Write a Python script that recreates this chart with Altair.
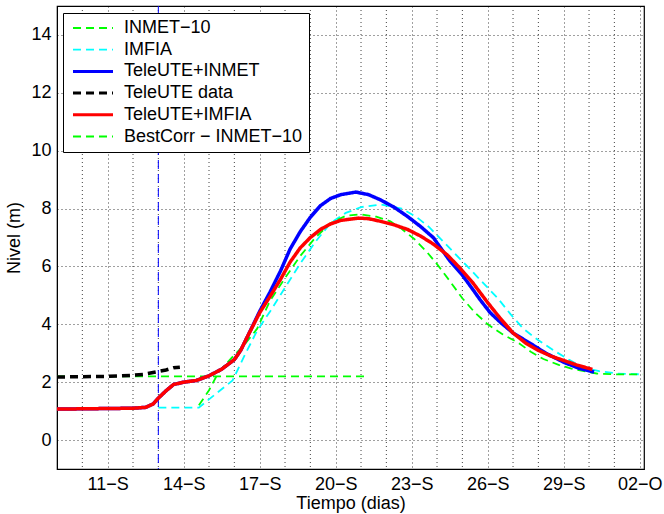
import altair as alt
import pandas as pd

YEAR = 2013
FONT = "Liberation Sans"
FS = 18

# x positions are day-of-September (32 = 02-Oct)
series_names = ["INMET\u221210", "IMFIA", "TeleUTE+INMET", "TeleUTE data",
                "TeleUTE+IMFIA", "BestCorr \u2212 INMET\u221210"]
series_colors = ["#00ff00", "#00ffff", "#0000ff", "#000000", "#ff0000", "#00ff00"]
series_dash = [[8, 5], [8, 5], [1, 0], [8, 5], [1, 0], [8, 5]]
series_width = [1.8, 1.8, 3.5, 3.5, 3.5, 1.8]

inmet_days = [9.0, 21.2]
inmet_vals = [2.2, 2.2]

imfia_days = [13.0, 14.6, 15.2, 15.93, 16.4, 16.9, 17.43, 18.0, 18.6, 19.2, 19.8,
              20.4, 21.0, 21.77, 22.6, 23.2, 23.7, 24.2, 24.7, 25.2, 25.8, 26.4,
              26.9, 27.4, 28.0, 28.6, 29.2, 29.8, 30.4, 31.1, 32.1]
imfia_vals = [1.12, 1.12, 1.55, 2.06, 2.92, 3.78, 4.47, 5.27, 6.1, 6.85, 7.5,
              7.85, 8.05, 8.14, 8.0, 7.7, 7.35, 6.9, 6.45, 6.0, 5.45, 4.9,
              4.35, 3.85, 3.45, 3.1, 2.78, 2.5, 2.38, 2.3, 2.27]

tele_inmet_days = [9.0, 10.0, 11.0, 12.0, 12.5, 12.8, 13.0, 13.3, 13.6, 14.0, 14.5,
                   15.0, 15.5, 16.0, 16.25, 16.56, 17.0, 17.4, 17.82, 18.2, 18.6,
                   19.0, 19.4, 19.8, 20.2, 20.8, 21.3, 21.77, 22.3, 22.83, 23.35,
                   23.86, 24.5, 25.0, 25.4, 25.7, 26.1, 26.5, 27.0, 27.7, 28.3,
                   29.0, 29.6, 30.1, 30.2]
tele_inmet_vals = [1.07, 1.08, 1.09, 1.1, 1.13, 1.25, 1.45, 1.7, 1.92, 2.0, 2.06,
                   2.22, 2.45, 2.78, 3.1, 3.65, 4.45, 5.1, 5.84, 6.6, 7.2,
                   7.7, 8.1, 8.35, 8.48, 8.57, 8.48, 8.3, 8.05, 7.73, 7.38,
                   6.99, 6.2, 5.7, 5.22, 4.85, 4.4, 4.07, 3.7, 3.33, 3.0,
                   2.69, 2.48, 2.37, 2.35]

tele_data_days = [9.0, 10.0, 11.0, 12.0, 12.4, 13.0, 13.3, 13.6, 13.85]
tele_data_vals = [2.18, 2.19, 2.2, 2.24, 2.27, 2.37, 2.42, 2.5, 2.52]

tele_imfia_days = [9.0, 10.0, 11.0, 12.0, 12.5, 12.8, 13.0, 13.3, 13.6, 14.0, 14.5,
                   15.0, 15.5, 16.0, 16.25, 16.56, 17.0, 17.4, 17.82, 18.2, 18.6,
                   19.0, 19.4, 19.8, 20.2, 20.9, 21.3, 21.77, 22.3, 22.83, 23.35,
                   23.86, 24.4, 24.9, 25.4, 25.7, 26.0, 26.5, 27.0, 27.5, 28.0,
                   28.5, 29.0, 29.5, 30.13]
tele_imfia_vals = [1.07, 1.08, 1.09, 1.1, 1.13, 1.25, 1.45, 1.7, 1.92, 2.0, 2.06,
                   2.22, 2.45, 2.78, 3.1, 3.65, 4.4, 4.95, 5.55, 6.15, 6.64,
                   7.0, 7.28, 7.47, 7.59, 7.67, 7.65, 7.56, 7.44, 7.28, 7.05,
                   6.77, 6.4, 5.95, 5.45, 5.1, 4.75, 4.2, 3.7, 3.35, 3.1,
                   2.9, 2.75, 2.6, 2.44]

best_days = [14.6, 15.0, 15.38, 15.9, 16.4, 16.9, 17.4, 18.0, 18.6, 19.2, 19.8,
             20.4, 21.0, 21.6, 22.16, 22.6, 23.1, 23.6, 24.0, 24.5, 25.0, 25.5,
             26.0, 26.6, 27.2, 27.7, 28.2, 28.8, 29.3, 29.8, 30.3, 31.1, 32.1]
best_vals = [1.2, 1.72, 2.35, 2.85, 3.3, 3.85, 4.8, 5.6, 6.36, 7.0, 7.5,
             7.75, 7.8, 7.72, 7.56, 7.3, 6.95, 6.5, 6.08, 5.5, 4.9, 4.4,
             4.0, 3.65, 3.37, 3.05, 2.8, 2.6, 2.47, 2.38, 2.3, 2.27, 2.27]

forecast_start_day = [13.0]

x_domain_days = [9.0, 32.17]
grid_days = list(range(10, 33))
label_days = [11, 14, 17, 20, 23, 26, 29, 32]
label_texts = ["11\u2212S", "14\u2212S", "17\u2212S", "20\u2212S", "23\u2212S",
               "26\u2212S", "29\u2212S", "02\u2212O"]
y_ticks = [0, 2, 4, 6, 8, 10, 12, 14]

base = pd.Timestamp(f"{YEAR}-09-01")


def to_ts(d):
    return (base + pd.Timedelta(days=d - 1)).strftime("%Y-%m-%dT%H:%M:%S")


def to_dt(d):
    t = base + pd.Timedelta(days=d - 1)
    return alt.DateTime(year=t.year, month=t.month, date=t.day,
                        hours=t.hour, minutes=t.minute)


def js_list(items):
    return "[" + ",".join(f"'{k}'" for k in items) + "]"


all_days = [inmet_days, imfia_days, tele_inmet_days, tele_data_days,
            tele_imfia_days, best_days]
all_vals = [inmet_vals, imfia_vals, tele_inmet_vals, tele_data_vals,
            tele_imfia_vals, best_vals]

rows = []
for i, (name, ds, vs) in enumerate(zip(series_names, all_days, all_vals)):
    for d, v in zip(ds, vs):
        rows.append({"serie": name, "order": i, "t": to_ts(d), "nivel": v})
df = pd.DataFrame(rows)

label_keys = [(base + pd.Timedelta(days=d - 1)).strftime("%m-%d") for d in label_days]
label_expr = ("indexof({keys}, timeFormat(datum.value, '%m-%d')) >= 0 ? "
              "{labels}[indexof({keys}, timeFormat(datum.value, '%m-%d'))] : ''").format(
    keys=js_list(label_keys), labels=js_list(label_texts))

thick = [n for n, w in zip(series_names, series_width) if w >= 3]
thin = [n for n, w in zip(series_names, series_width) if w < 3]
width_expr = f"indexof({js_list(thick)}, datum.value) >= 0 ? 3 : 1.8"

x_scale = alt.Scale(domain=[to_dt(x_domain_days[0]), to_dt(x_domain_days[1])])
y_scale = alt.Scale(domain=[-1, 15], nice=False, zero=False)

legend_cfg = alt.Legend(orient="none", legendX=6, legendY=7,
                        symbolStrokeWidth={"expr": width_expr})

x_enc = alt.X("t:T", scale=x_scale, title="Tiempo (dias)",
              axis=alt.Axis(values=[to_dt(d) for d in label_days], labelExpr=label_expr,
                            grid=True, ticks=False, labelPadding=6, titlePadding=1,
                            labelFlush=False, labelOverlap=False))
y_enc = alt.Y("nivel:Q", scale=y_scale, title="Nivel (m)",
              axis=alt.Axis(values=y_ticks, grid=True, ticks=False, labelPadding=6,
                            titlePadding=7))
color_enc = alt.Color("serie:N", scale=alt.Scale(domain=series_names, range=series_colors),
                      title=None, legend=legend_cfg)
dash_enc = alt.StrokeDash("serie:N", scale=alt.Scale(domain=series_names, range=series_dash),
                          title=None, legend=legend_cfg)

line_base = alt.Chart(df).encode(x=x_enc, y=y_enc, color=color_enc, strokeDash=dash_enc,
                                 detail="order:O")
thin_lines = line_base.transform_filter(
    alt.FieldOneOfPredicate(field="serie", oneOf=thin)).mark_line(clip=True, strokeWidth=1.8)
thick_lines = line_base.transform_filter(
    alt.FieldOneOfPredicate(field="serie", oneOf=thick)).mark_line(clip=True, strokeWidth=3.5)

minor_grid_days = [d for d in grid_days if d not in label_days]
xgrid = alt.Chart(pd.DataFrame({"t": [to_ts(d) for d in minor_grid_days]})).mark_rule(
    color="#000000", strokeDash=[1, 3], strokeWidth=1, opacity=0.75).encode(x=alt.X("t:T"))

rule = alt.Chart(pd.DataFrame({"t": [to_ts(d) for d in forecast_start_day]})).mark_rule(
    color="#0000ff", strokeDash=[9, 5], strokeWidth=1).encode(x="t:T")

chart = alt.layer(xgrid, rule, thin_lines, thick_lines).properties(
    width=587, height=463,
    autosize=alt.AutoSizeParams(type="none"),
    padding={"left": 57, "top": 6, "right": 20, "bottom": 45},
).configure_view(
    stroke="#000000", strokeWidth=1.2
).configure_axis(
    labelFont=FONT, titleFont=FONT, labelFontSize=FS, titleFontSize=FS,
    labelColor="#000000", titleColor="#000000", titleFontWeight="normal",
    domainColor="#000000", gridColor="#000000", gridDash=[1, 3], gridOpacity=0.75,
    gridWidth=1,
).configure_legend(
    labelFont=FONT, labelFontSize=FS, labelColor="#000000",
    symbolType="M-1,0H7", symbolSize=100, labelOffset=37,
    strokeColor="#000000", fillColor="#ffffff", padding=6, rowPadding=3.7,
    cornerRadius=0, labelLimit=400,
)

chart.save("out.html", embed_options={"renderer": "svg", "actions": False})
